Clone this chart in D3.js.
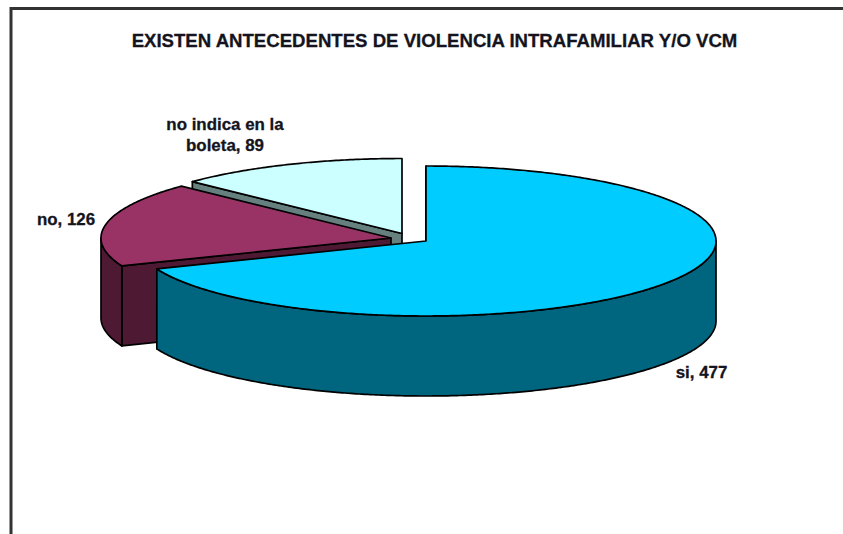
<!DOCTYPE html>
<html>
<head>
<meta charset="utf-8">
<style>
html, body { margin: 0; padding: 0; background: #fff; }
svg { display: block; }
text { font-family: "Liberation Sans", Arial, sans-serif; font-weight: bold; fill: #141420; stroke: #141420; stroke-width: 0.3px; }
</style>
<script src="https://cdn.jsdelivr.net/npm/d3@7"></script>
</head>
<body>
<svg id="chart" width="843" height="534"></svg>
<script>
// Chart content
const chartTitle = "EXISTEN ANTECEDENTES DE VIOLENCIA INTRAFAMILIAR Y/O VCM";
const categories = ["si", "no", "no indica en la boleta"];
const values = [477, 126, 89];

// Appearance of each slice, in the same order as the categories
const topColors = ["#00CCFF", "#993366", "#CCFFFF"];
const wallColors = ["#006680", "#4D1933", "#668080"];
const apexX = [426, 391, 402];
const apexY = [241, 238, 233.5];
const labelLines = [["si, 477"], ["no, 126"], ["no indica en la", "boleta, 89"]];
const labelX = [701.5, 66, 225];
const labelY = [378, 225, 130];

const rx = 290, ry = 75, depth = 80;
const svg = d3.select("#chart");

// Frame of the chart area, open to the right and at the bottom
svg.append("path")
  .attr("d", "M11,534V8.5H843")
  .attr("fill", "none")
  .attr("stroke", "#333")
  .attr("stroke-width", 3);

svg.append("text")
  .attr("x", 434.5).attr("y", 47)
  .attr("text-anchor", "middle")
  .attr("font-size", 18.6)
  .text(chartTitle);

const arcs = d3.pie().sort(null).value(d => d)(values);
const line = d3.line();

// Point on the elliptical rim of slice i, angle clockwise from north
const rim = (i, a, drop = 0) => [
  apexX[i] + rx * Math.sin(a),
  apexY[i] - ry * Math.cos(a) + drop
];

const sweep = (i, a0, a1, drop = 0) => {
  const n = Math.max(2, Math.ceil(Math.abs(a1 - a0) / 0.01));
  return d3.range(n + 1).map(k => rim(i, a0 + (a1 - a0) * k / n, drop));
};

const shape = (pts, fill) => svg.append("path")
  .attr("d", line(pts) + "Z")
  .attr("fill", fill)
  .attr("stroke", "#000")
  .attr("stroke-width", 1.7)
  .attr("stroke-linejoin", "round");

// Back slices first, so nearer ones overlap them
d3.range(values.length).reverse().forEach(i => {
  const { startAngle: a0, endAngle: a1 } = arcs[i];
  const apex = [apexX[i], apexY[i]];

  // Cut face along the slice's starting radius
  shape([apex, rim(i, a0), rim(i, a0, depth), [apex[0], apex[1] + depth]], wallColors[i]);

  // Outer wall, only where the rim faces the viewer
  const f0 = Math.max(a0, Math.PI / 2), f1 = Math.min(a1, 3 * Math.PI / 2);
  if (f1 > f0) {
    shape(sweep(i, f0, f1).concat(sweep(i, f1, f0, depth)), wallColors[i]);
  }

  // Top face
  shape([apex].concat(sweep(i, a0, a1)), topColors[i]);
});

// Slice labels
labelLines.forEach((lines, i) => {
  lines.forEach((t, k) => {
    svg.append("text")
      .attr("x", labelX[i])
      .attr("y", labelY[i] + k * 21)
      .attr("text-anchor", "middle")
      .attr("font-size", 16.9)
      .text(t);
  });
});
</script>
</body>
</html>
